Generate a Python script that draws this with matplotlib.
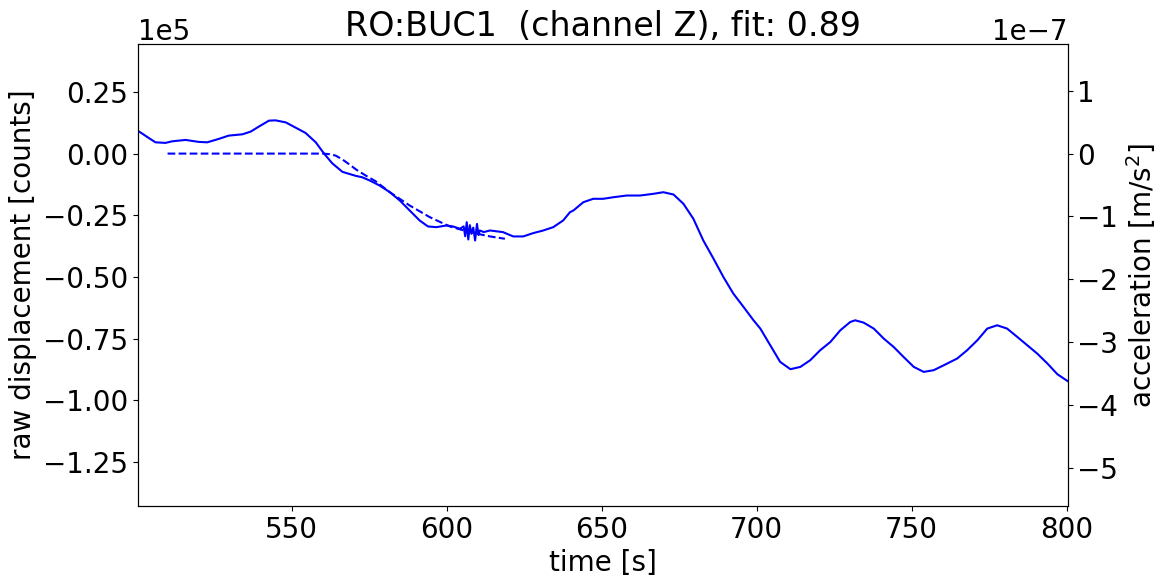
import numpy as np
import matplotlib
matplotlib.use('Agg')
import matplotlib.pyplot as plt
from matplotlib.ticker import MultipleLocator

# raw displacement (counts)
t_raw = [500.5, 503.9, 506.1, 509.3, 511.5, 515.8, 520.1, 522.8, 526.5, 529.7,
         534.1, 536.8, 539.4, 542.7, 544.8, 548.1, 550.7, 554.5, 557.8, 560.4,
         563.1, 566.4, 570.7, 572.8, 575.2, 578.4, 581.7, 584.9, 588.1, 591.3,
         594.0, 596.7, 600.0, 602.1, 604.3, 605.5, 606.0, 606.5, 607.0, 607.5,
         608.0, 608.6, 609.2, 609.8, 610.3, 610.7, 612.0, 614.0, 618.2, 621.5,
         624.7, 627.9, 631.2, 634.4, 637.6, 639.8, 640.9, 644.1, 647.3, 650.5,
         653.8, 658.1, 662.4, 666.7, 669.9, 673.2, 676.4, 679.6, 682.8, 686.1,
         689.3, 692.5, 695.8, 699.0, 701.2, 704.4, 707.6, 710.9, 714.1, 717.3,
         720.5, 723.8, 727.0, 730.2, 731.8, 734.5, 737.8, 741.0, 744.2, 747.4,
         750.7, 753.9, 757.1, 760.4, 764.7, 767.9, 771.2, 774.4, 777.6, 780.8,
         784.1, 787.3, 790.5, 793.8, 797.0, 800.7]
raw = [9.2, 6.35, 4.57, 4.33, 4.98, 5.54, 4.73, 4.57, 5.95, 7.28,
       7.81, 8.90, 10.92, 13.35, 13.47, 12.66, 10.92, 8.37, 4.57, 0.12,
       -3.92, -7.40, -9.02, -9.59, -10.9, -12.94, -15.65, -19.01, -23.06, -27.10,
       -29.53, -29.81, -29.12, -29.53, -30.46, -29.5, -33.5, -27.8, -34.8, -29.0,
       -32.5, -30.0, -35.2, -28.5, -33.0, -31.15, -31.8, -31.15, -31.83, -33.57,
       -33.57, -32.24, -31.15, -29.81, -27.10, -23.74, -23.06, -19.70, -18.32, -18.32,
       -17.68, -16.99, -16.99, -16.30, -15.65, -16.58, -20.35, -26.41, -35.19, -42.59,
       -50.04, -56.75, -62.17, -67.55, -70.91, -77.66, -84.42, -87.37, -86.44, -83.73,
       -79.69, -76.33, -71.60, -68.24, -67.55, -68.48, -70.91, -74.95, -78.35, -82.40,
       -86.44, -88.46, -87.78, -85.75, -83.04, -79.69, -75.64, -70.91, -69.57, -70.91,
       -74.31, -77.66, -81.02, -85.06, -89.39, -92.51]
raw = np.array(raw) * 1e3

# synthetic acceleration fit (m/s^2)
t_fit = [510.0, 540.0, 560.3, 562.3, 564.2, 566.3, 568.4, 571.0, 573.9, 577.1,
         581.7, 588.1, 594.6, 601.0, 607.5, 614.0, 618.8]
acc = [0.0, 0.0, 0.0, -0.01, -0.032, -0.09, -0.164, -0.26, -0.349, -0.44,
       -0.615, -0.826, -1.012, -1.159, -1.25, -1.318, -1.355]
acc = np.array(acc) * 1e-7

ylim_left = (-1.428e5, 0.444e5)
scale = 2.547e11

plt.rcParams['font.size'] = 20
fig = plt.figure(figsize=(11.68, 5.87), dpi=100)
ax = fig.add_axes([0.118, 0.138, 0.796, 0.787])
ax.plot(t_raw, raw, color='blue', lw=1.5)
ax.set_xlim(500.4, 800.3)
ax.set_ylim(*ylim_left)
ax.yaxis.set_major_locator(MultipleLocator(25000))
ax.ticklabel_format(axis='y', style='sci', scilimits=(0, 0))
ax.set_xlabel('time [s]')
ax.set_ylabel('raw displacement [counts]')
ax.set_title('RO:BUC1  (channel Z), fit: 0.89', fontsize=24)

ax2 = ax.twinx()
ax2.plot(t_fit, acc, color='blue', ls='--', lw=1.5)
ax2.set_ylim(ylim_left[0] / scale, ylim_left[1] / scale)
ax2.yaxis.set_major_locator(MultipleLocator(1e-7))
ax2.set_ylabel('acceleration [m/s$^2$]')

fig.savefig('out.png', dpi=100)
